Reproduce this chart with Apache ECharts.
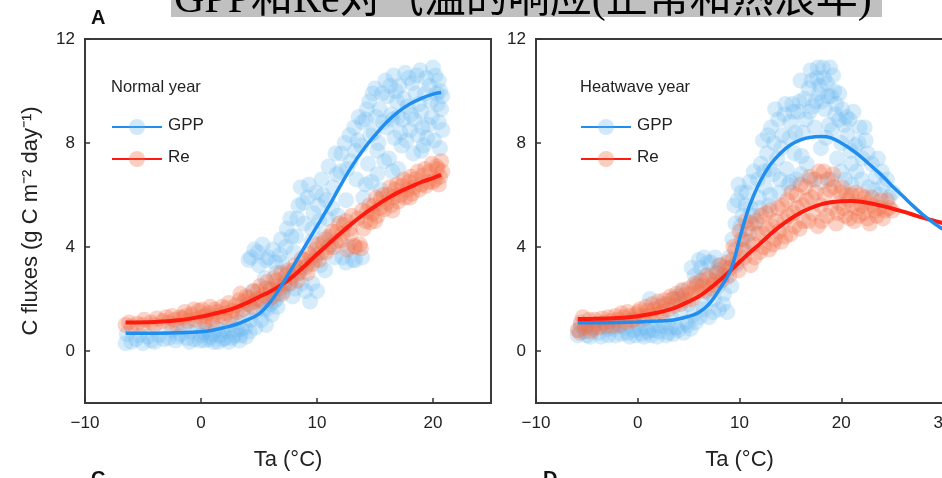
<!DOCTYPE html>
<html>
<head>
<meta charset="utf-8">
<script src="https://cdn.jsdelivr.net/npm/echarts@6/dist/echarts.min.js"></script>
<style>html,body{margin:0;padding:0;background:#fff;}#c{width:942px;height:478px;}</style>
</head>
<body>
<div id="c"></div>
<script>
// ---------- data ----------
const titleText = 'GPP和Re对气温的响应(正常和热浪年)';
const yTicks = [0, 4, 8, 12];

// Normal year scatter [Ta, flux]
const normalGppPts = [[-6.5,0.3],[-6.4,0.65],[-5.6,0.45],[-5,0.3],[-4.6,0.55],[-4,0.35],[-3.6,0.6],
[-2.8,0.5],[-2.5,0.8],[-2.2,0.4],[-1.8,0.65],[-1.5,0.9],[-1.2,0.5],[-0.9,0.75],[-0.6,0.45],[-0.3,0.95],[0,0.6],
[0.3,0.4],[0.5,0.8],[0.8,0.55],[1.1,0.35],[1.3,0.9],[1.6,0.6],[1.9,0.45],[2.2,0.75],[2.5,1.0],[2.7,0.5],[3.0,0.8],
[3.2,1.1],[3.4,0.6],[3.6,1.4],[3.8,0.9],[4.0,1.8],[4.1,3.5],[4.3,1.2],[4.5,2.3],[4.6,3.9],[4.8,1.5],[5.0,3.3],[5.1,2.0],[5.3,4.1],[5.5,2.8],
[5.7,1.6],[5.8,3.6],[6.0,2.4],[6.2,3.9],[6.3,1.9],[6.5,3.0],[6.7,2.2],[6.9,4.3],[7.0,3.4],[7.2,2.5],[7.4,4.7],[7.5,3.0],[7.7,5.1],[7.9,2.1],[8.0,3.8],
[8.2,4.4],[8.4,5.6],[8.6,6.3],[8.7,2.6],[8.9,4.9],[9.1,3.3],[9.2,5.9],[9.4,1.9],[9.5,4.2],[9.7,5.3],[9.9,6.1],[10.0,3.7],
[10.2,5.0],[10.4,6.6],[10.6,4.4],[10.8,5.8],[11.0,7.1],[11.2,4.1],[11.4,6.3],[11.6,7.6],[11.8,5.2],[12.0,6.9],
[12.2,3.6],[12.4,8.0],[12.5,5.8],[12.7,4.0],[12.9,7.3],[13.1,3.5],[13.2,8.6],[13.4,6.6],[13.6,9.0],[13.8,7.9],[14.0,5.9],
[14.2,8.9],[14.4,7.2],[14.5,9.6],[14.7,6.5],[14.9,8.4],[15.0,10.1],[15.2,7.7],[15.4,9.3],[15.5,6.2],[15.7,8.8],[15.9,10.4],
[16.1,9.8],[16.2,7.4],[16.4,9.1],[16.6,10.6],[16.7,8.2],[16.9,9.6],[17.1,10.2],[17.3,7.9],[17.4,8.9],[17.6,10.7],[17.8,9.4],[18.0,8.5],
[18.2,10.3],[18.3,7.6],[18.5,9.9],[18.7,8.3],[18.9,10.8],[19.0,9.2],[19.2,7.9],[19.4,10.5],[19.6,8.7],[19.8,9.6],[20.0,10.9],[20.1,8.1],[20.3,9.9],[20.5,10.4],[20.6,7.8],[20.7,9.3],[20.5,8.8],
[-6.0,0.35],[-5.3,0.6],[-4.3,0.4],[-3.2,0.45],[-2.0,0.55],[-1.0,0.35],[-0.1,0.4],[0.2,0.7],[0.7,0.45],[1.0,0.65],[1.5,0.35],[1.8,0.8],[2.1,0.5],[2.4,0.35],[2.9,0.6],[3.3,0.4],[3.5,0.85],[3.9,0.55],[4.2,0.75],[4.7,0.9],[5.2,1.2],[5.6,1.0],[6.1,1.4],[6.6,1.7],
[4.3,3.6],[4.9,3.8],[5.6,3.5],[6.4,3.4],[6.8,3.7],[7.3,4.0],[7.8,4.4],[8.3,5.1],[8.8,5.7],[9.3,6.4],[9.6,4.7],[10.1,5.6],[10.5,6.0],[10.9,5.1],[11.3,5.5],[11.7,6.8],[12.1,7.6],[12.6,7.0],[12.8,8.3],[13.3,7.7],[13.5,8.1],[13.9,8.8],[14.3,9.3],[14.6,8.3],[14.8,9.9],[15.1,9.0],[15.3,8.0],[15.6,9.9],[15.8,7.3],[16.0,8.6],[16.3,10.2],[16.5,8.9],[16.8,10.0],[17.0,9.0],[17.2,8.4],[17.5,9.7],[17.7,8.1],[17.9,10.5],[18.1,9.1],[18.4,8.9],[18.6,10.6],[18.8,9.5],[19.1,8.6],[19.3,9.9],[19.5,8.2],[19.7,10.2],[19.9,9.0],[20.2,10.6],[20.4,9.5],[20.6,10.0],[20.8,8.5],[20.8,9.8],[19.0,7.7],[17.0,7.0],[16.5,6.9],[15.2,6.8],[14.2,6.4],
[5.4,1.6],[6.0,1.8],[6.5,2.0],[7.1,2.3],[7.6,2.6],[8.1,2.4],[8.5,3.0],[9.0,2.3],[9.6,2.6],[10.0,2.3],[10.3,3.3],[10.7,3.1],[11.5,3.6],[12.5,3.4],[13.3,3.5],[13.9,3.6]];

const normalRePts = [[-6.5,1.0],[-6.2,1.1],[-5.5,1.05],[-4.9,1.2],[-4.3,1.1],[-3.8,1.25],
[-2.8,1.1],[-2.5,1.35],[-2.1,1.0],[-1.8,1.3],[-1.6,1.25],[-1.4,1.5],[-1.1,1.15],[-0.8,1.4],[-0.5,1.2],[-0.2,1.55],[0,1.3],[0.1,1.6],
[0.3,1.1],[0.6,1.45],[0.9,1.25],[1.0,1.1],[1.2,1.6],[1.5,1.35],[1.8,1.7],[2.0,1.3],[2.1,1.45],[2.4,1.85],[2.7,1.55],[3.0,1.75],
[3.3,1.95],[3.4,2.2],[3.6,1.6],[3.9,2.1],[4.2,1.8],[4.5,2.3],[4.6,1.9],[4.8,2.0],[5.1,2.5],[5.4,2.15],[5.7,2.65],[5.9,2.0],[6.0,2.35],
[6.3,2.8],[6.6,2.5],[6.9,3.0],[7.0,2.2],[7.2,2.6],[7.5,3.1],[7.8,2.85],[8.1,3.3],[8.4,3.0],[8.7,3.55],[9.0,3.2],
[9.3,3.75],[9.6,3.35],[9.9,3.9],[10.2,3.5],[10.5,4.15],[10.8,3.8],[11.1,4.4],[11.4,4.0],[11.7,4.6],[12.0,4.25],
[12.3,4.85],[12.6,3.9],[12.9,4.5],[13.2,4.05],[13.5,5.1],[13.8,3.95],[14.0,4.7],[14.3,5.35],[14.6,4.95],[14.9,5.6],
[15.2,5.2],[15.5,5.85],[15.8,5.45],[16.1,6.0],[16.4,5.6],[16.7,6.2],[17.0,5.75],[17.3,6.35],[17.6,5.9],[17.9,6.5],
[18.2,6.05],[18.5,6.6],[18.8,6.2],[19.1,6.75],[19.4,6.35],[19.7,6.9],[20.0,6.5],[20.3,7.1],[20.6,6.7],[20.7,7.3],[20.5,6.4],
[-6.0,0.95],[-5.0,1.0],[-4.0,1.0],[-3.3,1.15],[-3.0,1.3],[-2.3,1.2],[-1.3,1.35],[-0.6,1.6],[0.4,1.35],[0.8,1.7],[1.4,1.5],[2.2,1.65],[2.6,1.3],[3.1,1.5],[3.7,1.9],[4.1,2.05],[4.4,1.7],[4.9,2.3],[5.3,1.9],[5.6,2.4],[6.2,2.1],[6.5,2.7],[6.8,2.4],[7.3,2.9],[7.7,2.6],[8.0,3.1],[8.3,2.7],[8.6,3.2],[8.9,3.5],[9.2,3.0],[9.5,3.6],[9.8,3.5],[10.0,4.1],[10.4,3.8],[10.7,4.3],[11.0,4.0],[11.3,4.6],[11.6,4.2],[11.9,4.9],[12.2,4.5],[12.5,5.0],[12.8,4.7],[13.0,5.2],[13.3,4.0],[13.7,4.1],[13.9,5.4],[14.2,5.0],[14.5,5.6],[14.8,5.3],[15.1,5.9],[15.4,5.5],[15.7,6.0],[16.0,5.7],[16.3,6.3],[16.6,5.9],[16.9,6.4],[17.2,6.0],[17.5,6.6],[17.8,6.2],[18.1,6.7],[18.4,6.3],[18.7,6.9],[19.0,6.4],[19.3,7.0],[19.6,6.5],[19.9,7.2],[20.2,6.6],[20.4,7.0],[20.8,6.9],[18.0,5.9],[16.5,5.4],[15.0,5.0]];

// Normal year fitted curves
const normalCurveT = [-6.5,-4,-2,0,1,2,3,4,5,6,7,8,9,10,11,12,13,14,15,16,17,18,19,20,20.7];
const normalGppFit = [0.68,0.68,0.7,0.74,0.8,0.9,1.02,1.2,1.43,1.9,2.56,3.3,4.05,4.8,5.55,6.35,7.1,7.75,8.3,8.8,9.2,9.5,9.72,9.88,9.94];
const normalReFit  = [1.1,1.12,1.18,1.32,1.42,1.53,1.67,1.86,2.08,2.3,2.56,2.9,3.3,3.72,4.12,4.52,4.9,5.25,5.56,5.85,6.1,6.3,6.5,6.65,6.77];

// Heatwave year scatter
const heatGppPts = [[-5.9,0.6],[-5.6,1.0],[-5.2,0.75],[-4.7,0.55],[-4.3,0.9],[-3.8,0.7],[-3.3,1.05],[-2.9,0.6],[-2.4,0.85],[-2.0,1.1],[-1.6,0.65],[-1.2,0.9],[-0.8,0.55],[-0.4,0.8],[0,1.05],[0.4,0.65],[0.8,0.9],[1.2,2.0],[1.3,0.6],[1.7,1.0],[2.1,0.75],[2.5,1.8],[2.6,1.1],[3.0,0.7],[3.3,1.3],[3.6,2.0],[3.8,0.9],[4.2,1.5],[4.4,2.3],[4.7,1.1],[5.0,1.8],[5.3,3.2],[5.5,1.4],[5.8,2.6],[6.0,3.5],[6.3,1.9],[6.6,2.9],[6.9,3.4],[7.1,2.2],[7.4,1.5],[7.7,3.0],[7.9,2.5],[8.2,3.3],[8.4,1.8],[8.7,2.8],[9.0,3.6],
[9.3,4.3],[9.5,5.6],[9.7,3.3],[9.9,6.4],[10.1,4.8],[10.3,5.2],[10.5,3.9],[10.7,6.1],[10.9,4.5],[11.1,5.5],[11.4,6.9],[11.6,4.9],[11.9,5.9],[12.1,7.2],[12.3,8.1],[12.5,6.3],[12.7,7.6],[12.9,5.6],[13.1,8.6],[13.3,6.8],[13.5,9.3],[13.7,7.4],[13.9,6.1],[14.2,8.3],[14.4,9.1],[14.6,7.0],[14.8,6.4],[15.0,8.8],[15.2,9.5],[15.4,7.6],[15.6,6.6],[15.8,9.2],[16.0,10.4],[16.2,8.4],[16.4,9.7],[16.6,7.2],[16.8,10.1],[17.0,10.8],[17.2,9.4],[17.4,8.6],[17.6,10.5],[17.8,9.9],[18.0,7.8],[18.2,10.9],[18.4,9.3],[18.6,10.3],[18.8,8.7],[19.0,9.8],[19.2,10.6],[19.4,9.1],[19.6,7.4],[19.8,8.9],[20.1,9.3],[20.4,6.6],[20.6,8.3],[20.9,7.7],[21.2,9.2],[21.5,6.9],[21.8,8.6],[22.1,7.4],[22.4,8.1],[22.7,6.3],[23.0,7.2],[23.4,6.7],[23.8,6.0],[24.2,6.4],[24.7,5.9],[25.1,6.1],
[-5.8,0.8],[-5.0,0.6],[-4.5,1.0],[-3.6,0.55],[-3.0,0.85],[-2.2,0.6],[-1.8,0.95],[-1.0,0.7],[-0.2,0.6],[0.2,0.85],[0.6,0.55],[1.0,0.75],[1.5,0.8],[1.9,0.55],[2.3,0.95],[2.8,0.6],[3.2,0.9],[3.5,0.65],[4.0,0.8],[4.5,0.7],[4.9,1.0],[5.2,0.85],[5.7,1.1],[6.1,1.3],[6.5,1.6],[7.0,1.3],[7.5,2.0],[8.0,1.6],[8.5,2.2],[8.8,1.5],[9.2,2.5],[6.2,3.2],[6.5,3.6],[7.2,3.4],[7.6,3.6],[8.0,3.1],[5.6,2.9],[4.0,2.1],
[9.6,4.9],[9.8,5.8],[10.2,6.1],[10.4,4.3],[10.6,5.6],[11.0,6.5],[11.3,5.2],[11.8,6.6],[12.4,6.9],[12.8,8.3],[13.0,7.0],[13.4,8.0],[13.8,8.9],[14.1,7.8],[14.5,9.5],[14.9,8.2],[15.3,9.2],[15.5,8.4],[15.9,9.6],[16.1,7.5],[16.5,8.9],[16.9,9.2],[17.1,10.4],[17.5,9.6],[17.7,10.9],[17.9,10.2],[18.1,9.6],[18.3,10.5],[18.5,8.2],[18.7,9.8],[18.9,10.9],[19.1,8.5],[19.3,10.0],[19.5,9.5],[19.8,9.9],[20.0,8.0],[20.3,8.7],[20.5,9.0],[20.8,8.9],[21.0,7.2],[21.4,7.9],[21.7,8.0],[22.0,6.6],[22.3,8.6],[22.6,7.6],[23.2,6.2],[23.6,7.4],[24.0,6.9],[24.5,6.6],
[15.0,6.5],[16.0,6.8],[17.0,6.6],[18.0,6.5],[19.0,6.6],[20.0,6.9],[21.0,6.4],[14.0,6.6],[13.0,6.0],[12.0,5.5]];

const heatRePts = [[-5.9,0.8],[-5.6,1.1],[-5.2,0.9],[-4.8,1.2],[-4.4,0.85],[-4.0,1.05],[-3.5,1.25],[-3.1,0.95],[-2.7,1.15],[-2.2,1.35],[-1.8,1.0],[-1.4,1.3],[-1.0,1.5],[-0.6,1.15],[-0.2,1.4],[0.2,1.6],[0.6,1.25],[1.0,1.55],[1.4,1.8],[1.8,1.4],[2.2,1.7],[2.6,1.95],[3.0,1.6],[3.4,2.0],[3.8,2.2],[4.2,1.8],[4.6,2.15],[5.0,2.4],[5.4,2.0],[5.8,2.5],[6.2,2.7],[6.6,2.3],[7.0,2.8],[7.4,2.55],[7.8,3.0],[8.2,2.7],[8.6,3.2],[9.0,2.9],[9.3,3.5],[9.6,3.9],[9.9,3.1],[10.2,4.3],[10.5,3.6],[10.8,4.7],[11.1,3.3],[11.4,4.1],[11.7,5.0],[12.0,3.8],[12.3,4.5],[12.6,5.3],[12.9,3.9],[13.2,4.8],[13.5,4.3],[13.8,5.5],[14.1,4.2],[14.4,5.0],[14.7,5.8],[15.0,4.5],[15.3,5.3],[15.6,6.0],[15.9,4.7],[16.2,5.6],[16.5,6.3],[16.8,5.0],[17.1,5.9],[17.4,6.6],[17.7,4.8],[18.0,5.6],[18.3,6.9],[18.6,5.2],[18.9,6.2],[19.2,6.8],[19.5,4.9],[19.8,5.7],[20.1,6.3],[20.4,5.2],[20.7,5.8],[21.0,6.0],[21.3,5.0],[21.6,5.5],[21.9,6.0],[22.2,5.3],[22.5,5.7],[22.8,4.9],[23.1,5.6],[23.5,5.2],[23.9,5.8],[24.3,5.4],[24.7,5.5],
[-5.7,0.7],[-5.4,1.3],[-5.0,1.0],[-4.6,0.75],[-4.2,1.2],[-3.8,0.9],[-3.3,1.1],[-2.9,1.3],[-2.5,0.95],[-2.0,1.2],[-1.6,1.45],[-1.2,1.1],[-0.8,1.35],[-0.4,1.2],[0,1.5],[0.4,1.35],[0.8,1.7],[1.2,1.4],[1.6,1.6],[2.0,1.9],[2.4,1.5],[2.8,1.8],[3.2,2.1],[3.6,1.75],[4.0,2.0],[4.4,2.35],[4.8,1.95],[5.2,2.2],[5.6,2.6],[6.0,2.3],[6.4,2.5],[6.8,2.9],[7.2,2.4],[7.6,2.7],[8.0,3.3],[8.4,2.9],[8.8,3.4],[9.1,3.2],[9.4,4.0],[9.7,3.4],[10.0,4.6],[10.3,3.9],[10.6,5.0],[10.9,4.2],[11.2,4.9],[11.5,3.6],[11.8,4.5],[12.1,5.2],[12.4,4.0],[12.7,4.7],[13.0,5.4],[13.3,4.1],[13.6,5.0],[13.9,4.6],[14.2,5.6],[14.5,4.4],[14.8,5.2],[15.1,6.1],[15.4,4.8],[15.7,5.5],[16.0,6.4],[16.3,5.0],[16.6,5.8],[16.9,6.7],[17.2,5.3],[17.5,6.1],[17.8,6.9],[18.1,5.0],[18.4,6.0],[18.7,6.6],[19.0,5.5],[19.3,6.3],[19.6,5.3],[19.9,6.1],[20.2,5.5],[20.5,6.0],[20.8,5.1],[21.1,5.6],[21.4,6.1],[21.7,5.2],[22.0,5.6],[22.3,5.9],[22.6,5.1],[23.0,5.9],[23.3,5.4],[23.7,5.5],[24.1,5.1],[24.5,5.8],[25.0,5.4]];

// Heatwave year fitted curves
const heatCurveT = [-5.9,-4,-2,0,2,3,4,5,6,7,8,9,9.5,10,10.5,11,12,13,14,15,16,17,18,19,20,21,22,23,24,25,26,27,28,29,30];
const heatGppFit = [1.09,1.09,1.1,1.12,1.15,1.17,1.23,1.33,1.48,1.8,2.35,3.0,3.55,4.3,5.0,5.6,6.5,7.15,7.6,7.92,8.12,8.22,8.25,8.2,8.0,7.75,7.45,7.1,6.75,6.35,5.98,5.6,5.25,4.95,4.68];
const heatReFit  = [1.23,1.24,1.27,1.34,1.48,1.58,1.72,1.9,2.1,2.38,2.7,3.05,3.24,3.42,3.6,3.78,4.12,4.48,4.8,5.08,5.32,5.5,5.64,5.72,5.76,5.77,5.74,5.67,5.58,5.48,5.37,5.25,5.13,5.02,4.92];

// ---------- styles ----------
const FONT = '"Liberation Sans", Arial, sans-serif';
const TXT = '#222';
const BLUE_PT = 'rgba(100,180,240,0.32)';
const ORANGE_PT = 'rgba(242,112,72,0.38)';
const BLUE_LN = '#1f8ef0';
const RED_LN = '#ff1a0f';

const zip = (xs, ys) => xs.map((x, i) => [x, ys[i]]);
const fmt = v => String(v).replace('-', '\u2212');

function xAx(gi, max, showMax) {
  return {
    gridIndex: gi, type: 'value', min: -10, max: max, interval: 10,
    name: 'Ta (°C)', nameLocation: 'middle', nameGap: 46,
    nameTextStyle: { fontFamily: FONT, fontSize: 22, color: TXT },
    axisLine: { show: false, onZero: false },
    axisTick: { show: true, inside: true, length: 5, lineStyle: { color: '#333', width: 1.5 } },
    axisLabel: { fontFamily: FONT, fontSize: 17, color: TXT, margin: 12, formatter: fmt, showMaxLabel: showMax, hideOverlap: false },
    splitLine: { show: false }
  };
}
function yAx(gi, withName) {
  const a = {
    gridIndex: gi, type: 'value', min: -2, max: 12,
    axisLine: { show: false, onZero: false },
    axisTick: { show: true, inside: true, length: 5, customValues: yTicks, lineStyle: { color: '#333', width: 1.5 } },
    axisLabel: { fontFamily: FONT, fontSize: 17, color: TXT, margin: 10, customValues: yTicks, formatter: fmt },
    splitLine: { show: false }
  };
  if (withName) {
    a.name = 'C fluxes (g C m\u207B\u00B2 day\u207B\u00B9)';
    a.nameLocation = 'middle';
    a.nameGap = 43;
    a.nameTextStyle = { fontFamily: FONT, fontSize: 22, color: TXT };
  }
  return a;
}
function scat(gi, data, color) {
  return { type: 'scatter', xAxisIndex: gi, yAxisIndex: gi, data: data, symbol: 'circle', symbolSize: 16,
    itemStyle: { color: color }, silent: true, animation: false, large: false };
}
function fit(gi, data, color, w) {
  return { type: 'line', xAxisIndex: gi, yAxisIndex: gi, data: data, smooth: 0.35, showSymbol: false,
    lineStyle: { color: color, width: w }, silent: true, animation: false };
}
function legend(x0, label) {
  return [
    { type: 'text', left: x0, top: 79, style: { text: label, font: '16.5px ' + FONT, fill: TXT } },
    { type: 'line', shape: { x1: x0 + 1, y1: 127, x2: x0 + 51, y2: 127 }, style: { stroke: BLUE_LN, lineWidth: 2 } },
    { type: 'circle', shape: { cx: x0 + 26, cy: 127, r: 8 }, style: { fill: 'rgba(100,180,240,0.3)' } },
    { type: 'text', left: x0 + 57, top: 117, style: { text: 'GPP', font: '17px ' + FONT, fill: TXT } },
    { type: 'line', shape: { x1: x0 + 1, y1: 159, x2: x0 + 51, y2: 159 }, style: { stroke: RED_LN, lineWidth: 2 } },
    { type: 'circle', shape: { cx: x0 + 26, cy: 159, r: 8 }, style: { fill: 'rgba(242,112,72,0.35)' } },
    { type: 'text', left: x0 + 57, top: 149, style: { text: 'Re', font: '17px ' + FONT, fill: TXT } }
  ];
}

const chart = echarts.init(document.getElementById('c'), null, { renderer: 'canvas' });
chart.setOption({
  backgroundColor: '#fff',
  animation: false,
  grid: [
    { left: 85, top: 39, width: 406, height: 364, show: true, borderColor: '#3a3a3a', borderWidth: 2, backgroundColor: 'transparent', containLabel: false, outerBoundsMode: 'none' },
    { left: 536, top: 39, width: 407, height: 364, show: true, borderColor: '#3a3a3a', borderWidth: 2, backgroundColor: 'transparent', containLabel: false, outerBoundsMode: 'none' }
  ],
  xAxis: [xAx(0, 25, false), xAx(1, 30, true)],
  yAxis: [yAx(0, true), yAx(1, false)],
  series: [
    scat(0, normalGppPts, BLUE_PT),
    scat(0, normalRePts, ORANGE_PT),
    fit(0, zip(normalCurveT, normalReFit), RED_LN, 4),
    fit(0, zip(normalCurveT, normalGppFit), BLUE_LN, 3.5),
    scat(1, heatGppPts, BLUE_PT),
    scat(1, heatRePts, ORANGE_PT),
    fit(1, zip(heatCurveT, heatReFit), RED_LN, 4),
    fit(1, zip(heatCurveT, heatGppFit), BLUE_LN, 3.5)
  ],
  graphic: [
    { type: 'rect', shape: { x: 171, y: -30, width: 711, height: 47 }, style: { fill: '#c0c0c0' }, z: 10 },
    { type: 'text', x: 174, y: 22, z: 11, style: { text: titleText, font: '42px "Liberation Serif", "Noto Sans CJK SC", serif', fill: '#000', verticalAlign: 'bottom' } },
    { type: 'text', left: 91, top: 8, style: { text: 'A', font: 'bold 20px ' + FONT, fill: '#111' } },
    { type: 'text', left: 91, top: 469, style: { text: 'C', font: 'bold 20px ' + FONT, fill: '#111' } },
    { type: 'text', left: 543, top: 469, style: { text: 'D', font: 'bold 20px ' + FONT, fill: '#111' } }
  ].concat(legend(111, 'Normal year'), legend(580, 'Heatwave year'))
});
</script>
</body>
</html>
